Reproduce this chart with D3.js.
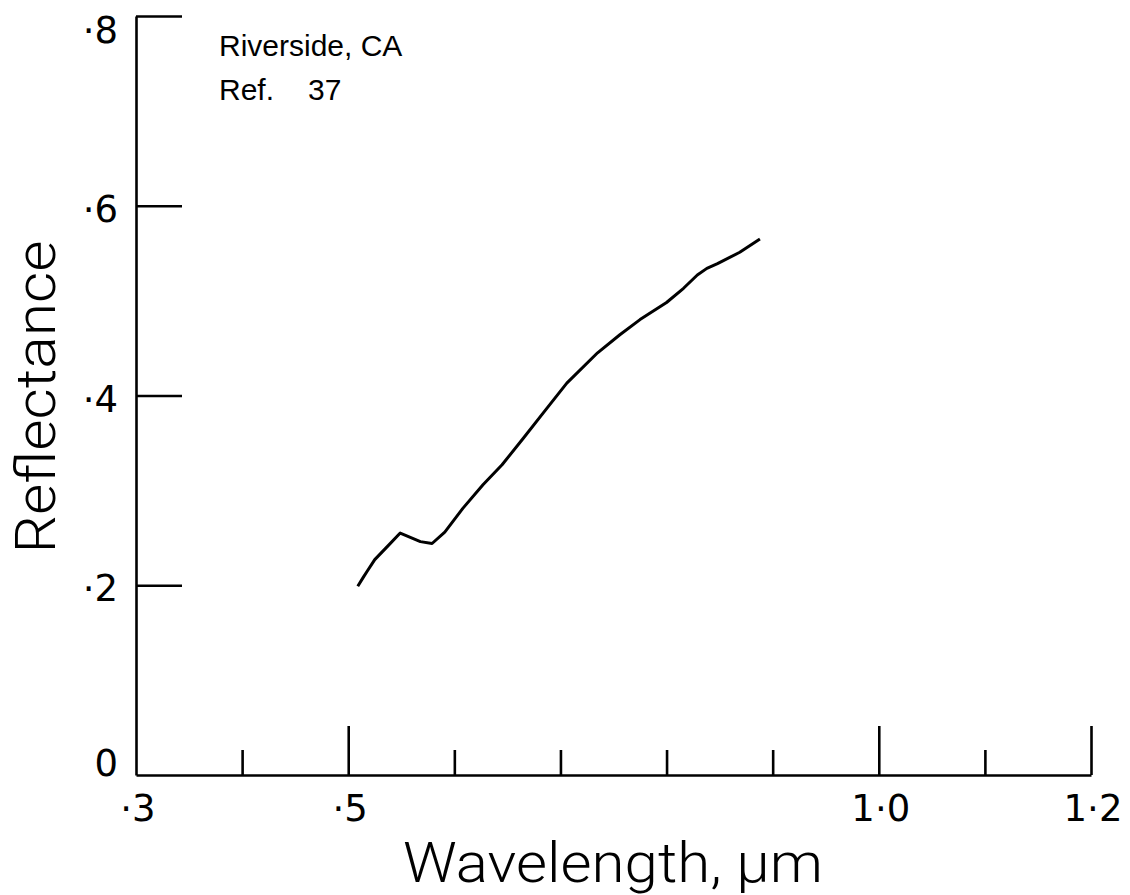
<!DOCTYPE html>
<html>
<head>
<meta charset="utf-8">
<script src="https://cdn.jsdelivr.net/npm/d3@7"></script>
<style>
  body { margin: 0; background: #fff; }
  text { fill: #000; }
</style>
</head>
<body>
<div id="chart"></div>
<script>
// spectrum
const wavelength = [0.509, 0.514, 0.518, 0.525, 0.537, 0.549, 0.568, 0.579, 0.591, 0.608, 0.627,
  0.645, 0.665, 0.684, 0.706, 0.735, 0.756, 0.775, 0.800, 0.816, 0.829, 0.838, 0.848, 0.869, 0.888];
const reflectance = [0.199, 0.208, 0.215, 0.227, 0.241, 0.255, 0.246, 0.244, 0.256, 0.281, 0.306,
  0.327, 0.355, 0.382, 0.413, 0.445, 0.464, 0.480, 0.498, 0.513, 0.527, 0.534, 0.539, 0.551, 0.565];

const xTicks = [0.3, 0.4, 0.5, 0.6, 0.7, 0.8, 0.9, 1.0, 1.1, 1.2];
const xLongTicks = [0.5, 1.0, 1.2];
const xLabelValues = [0.3, 0.5, 1.0, 1.2];
const xLabelText = [".3", ".5", "1.0", "1.2"];
const yTicks = [0, 0.2, 0.4, 0.6, 0.8];
const yLabelText = ["0", ".2", ".4", ".6", ".8"];
const noteLines = [["Riverside, CA", ""], ["Ref.", "37"]];

const width = 1130, height = 895;
const tickFont = 37;
const x = d3.scaleLinear().domain([0.3, 1.2]).range([136, 1091]);
const y = d3.scaleLinear().domain([0, 0.8]).range([775, 16]);

const svg = d3.select("#chart").append("svg")
  .attr("width", width)
  .attr("height", height);

// label with the decimal point raised to mid height, plotter style
function plotterLabel(sel, s) {
  sel.text(null);
  let raised = false;
  s.split("").forEach(ch => {
    const t = sel.append("tspan").text(ch);
    if (ch === ".") {
      t.attr("dy", -10);
      raised = true;
    } else if (raised) {
      t.attr("dy", 10);
      raised = false;
    }
  });
}

// x axis
const xAxis = d3.axisBottom(x)
  .tickValues(xTicks)
  .tickSizeInner(-24)
  .tickSizeOuter(0)
  .tickFormat("");
const gx = svg.append("g")
  .attr("transform", `translate(0,${y(0)})`)
  .call(xAxis);
gx.selectAll(".tick line")
  .attr("y2", d => xLongTicks.includes(d) ? -49 : -25);
gx.selectAll(".tick").filter(d => d === 0.3).remove();

gx.selectAll(".xlab")
  .data(xLabelValues)
  .join("text")
  .attr("class", "xlab")
  .attr("x", d => x(d) + 2)
  .attr("y", 46)
  .attr("text-anchor", "middle")
  .attr("font-family", "'DejaVu Sans', sans-serif")
  .attr("font-size", tickFont)
  .each(function (d, i) { plotterLabel(d3.select(this), xLabelText[i]); });

// y axis, ticks pointing into the plot
const yAxis = d3.axisLeft(y)
  .tickValues(yTicks)
  .tickSizeInner(-46)
  .tickSizeOuter(0)
  .tickFormat("");
const gy = svg.append("g")
  .attr("transform", `translate(${x(0.3)},0)`)
  .call(yAxis);
gy.selectAll(".tick").filter(d => d === 0).select("line").remove();

gy.selectAll(".ylab")
  .data(yTicks)
  .join("text")
  .attr("class", "ylab")
  .attr("x", -18)
  .attr("y", d => Math.min(Math.max(y(d) + 3, 30), 763) + 13)
  .attr("text-anchor", "end")
  .attr("font-family", "'DejaVu Sans', sans-serif")
  .attr("font-size", tickFont)
  .each(function (d, i) { plotterLabel(d3.select(this), yLabelText[i]); });

svg.selectAll(".domain, .tick line")
  .attr("stroke", "#000")
  .attr("stroke-width", 2.6);

// curve
const line = d3.line()
  .x(d => x(d[0]))
  .y(d => y(d[1]));

svg.append("path")
  .datum(d3.zip(wavelength, reflectance))
  .attr("d", line)
  .attr("fill", "none")
  .attr("stroke", "#000")
  .attr("stroke-width", 3)
  .attr("stroke-linejoin", "round");

// axis titles
svg.append("text")
  .attr("x", 613)
  .attr("y", 882)
  .attr("text-anchor", "middle")
  .attr("font-family", "Roboto, 'DejaVu Sans', sans-serif")
  .attr("font-size", 55)
  .attr("font-weight", 300)
  .attr("textLength", 420)
  .attr("lengthAdjust", "spacingAndGlyphs")
  .text("Wavelength, \u03bcm");

svg.append("text")
  .attr("transform", "translate(55,397) rotate(-90)")
  .attr("text-anchor", "middle")
  .attr("font-family", "Roboto, 'DejaVu Sans', sans-serif")
  .attr("font-size", 55)
  .attr("font-weight", 300)
  .attr("textLength", 313)
  .attr("lengthAdjust", "spacingAndGlyphs")
  .text("Reflectance");

// note in the corner
const note = svg.selectAll(".note")
  .data(noteLines)
  .join("text")
  .attr("class", "note")
  .attr("x", 219)
  .attr("y", (d, i) => 56 + i * 44)
  .attr("font-family", "'Liberation Sans', Arial, sans-serif")
  .attr("font-size", 30);
note.append("tspan").text(d => d[0]);
note.append("tspan").attr("dx", 34).text(d => d[1]);
</script>
</body>
</html>
